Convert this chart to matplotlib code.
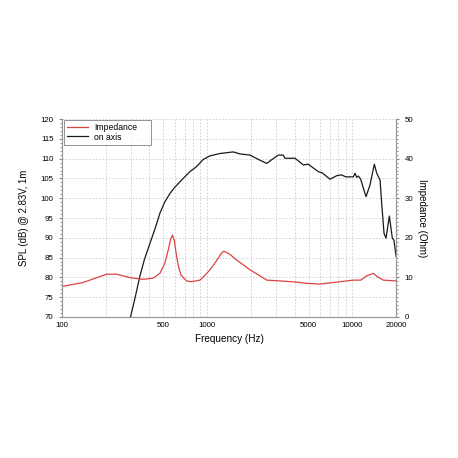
import numpy as np
import matplotlib
matplotlib.use("Agg")
import matplotlib.pyplot as plt
from matplotlib.ticker import FixedLocator, MultipleLocator, NullFormatter

plt.rcParams['font.family'] = ['Liberation Sans', 'DejaVu Sans']

# on-axis SPL (dB)
spl_freq = [297, 320, 344, 370, 404, 440, 473, 510, 555, 600, 684, 760, 847, 940,
            1045, 1224, 1512, 1683, 1972, 2311, 2571, 2800, 3090, 3343, 3430, 4027,
            4594, 4970, 5400, 5836, 6200, 7016, 7800, 8400, 9000, 10140, 10430,
            10700, 11000, 11400, 11900, 12410, 13200, 14150, 14700, 15490, 15900,
            16500, 17030, 17950, 18820, 19300, 20000]
spl_db = [70.0, 75.0, 80.2, 84.5, 88.6, 92.5, 96.2, 99.0, 101.2, 102.8, 105.0,
          106.7, 108.0, 109.8, 110.7, 111.3, 111.7, 111.2, 110.9, 109.6, 108.8,
          109.8, 110.9, 110.9, 110.1, 110.1, 108.4, 108.6, 107.6, 106.7, 106.4,
          104.8, 105.7, 105.9, 105.4, 105.4, 106.3, 105.3, 105.6, 104.8, 102.5,
          100.4, 103.3, 108.6, 106.3, 104.6, 98.7, 91.1, 89.9, 95.5, 89.9, 89.4,
          85.2]

# impedance (Ohm)
imp_freq = [100, 140, 203, 238, 297, 363, 425, 473, 512, 540, 560, 578, 595, 617,
            635, 660, 722, 780, 892, 960, 1045, 1110, 1191, 1250, 1300, 1360, 1435,
            1596, 1800, 1972, 2311, 2571, 3170, 4128, 4830, 5984, 7380, 8650,
            10140, 11400, 12560, 13930, 14800, 16330, 20000]
imp_ohm = [7.7, 8.7, 10.8, 10.8, 9.9, 9.5, 9.8, 11.0, 13.6, 16.9, 19.6, 20.7, 19.2,
           15.2, 12.8, 10.6, 9.1, 8.9, 9.3, 10.4, 11.9, 13.2, 14.8, 16.0, 16.6, 16.3,
           15.8, 14.4, 13.0, 11.9, 10.4, 9.3, 9.1, 8.8, 8.5, 8.3, 8.7, 9.0, 9.3,
           9.3, 10.4, 11.0, 10.2, 9.3, 9.1]

xticks = [100, 500, 1000, 5000, 10000, 20000]

fig = plt.figure(figsize=(4.58, 4.58), dpi=100)
ax = fig.add_axes([0.135, 0.308, 0.73, 0.432])
ax2 = ax.twinx()

grid_kw = dict(color='#cccccc', linestyle=(0, (2, 2)), linewidth=0.6)

ax.set_xscale('log')
ax.set_xlim(100, 20000)
ax.set_ylim(70, 120)
ax2.set_ylim(0, 50)

ax.xaxis.set_major_locator(FixedLocator(xticks))
ax.set_xticklabels([str(t) for t in xticks])
minor = [f for d in (100, 1000, 10000) for f in range(d, d * 10, d) if 100 <= f <= 20000]
ax.xaxis.set_minor_locator(FixedLocator(minor))
ax.xaxis.set_minor_formatter(NullFormatter())
ax.tick_params(axis='x', which='both', length=0, labelsize=5.7, pad=3.5)
ax.yaxis.set_major_locator(MultipleLocator(5))
ax.yaxis.set_minor_locator(MultipleLocator(1))
ax.tick_params(axis='y', which='major', length=2.5, labelsize=5.7, color='#888888')
ax.tick_params(axis='y', which='minor', length=1.2, color='#888888')
ax2.yaxis.set_major_locator(MultipleLocator(10))
ax2.yaxis.set_minor_locator(MultipleLocator(1))
ax2.tick_params(axis='y', which='major', length=2.5, labelsize=5.7, color='#888888')
ax2.tick_params(axis='y', which='minor', length=1.2, color='#888888')

for f in minor:
    ax.axvline(f, **grid_kw, zorder=0)
for v in range(75, 121, 5):
    ax.axhline(v, **grid_kw, zorder=0)

for a in (ax, ax2):
    a.spines['top'].set_visible(False)
    for s in ('left', 'right', 'bottom'):
        a.spines[s].set_color('#999999')
        a.spines[s].set_linewidth(0.8)

l1, = ax2.plot(imp_freq, imp_ohm, color='#d9453f', linewidth=0.9, label='Impedance')
l2, = ax.plot(spl_freq, spl_db, color='#1a1a1a', linewidth=0.9, label='on axis')

ax.set_xlabel('Frequency (Hz)', fontsize=7.2, labelpad=4)
ax.set_ylabel('SPL (dB) @ 2.83V, 1m', fontsize=6.9, labelpad=8)
ax2.set_ylabel('Impedance (Ohm)', fontsize=7, rotation=-90, labelpad=10)

leg = ax2.legend(handles=[l1, l2], loc='upper left', fontsize=6.2, frameon=True,
                 fancybox=False, bbox_to_anchor=(0.006, 0.005, 0.26, 0.99),
                 mode='expand', borderaxespad=0.0, handlelength=2.4,
                 borderpad=0.35, labelspacing=0.05, handletextpad=0.8)
leg.get_frame().set_edgecolor('#777777')
leg.get_frame().set_linewidth(0.7)

fig.savefig('out.png', dpi=100)
